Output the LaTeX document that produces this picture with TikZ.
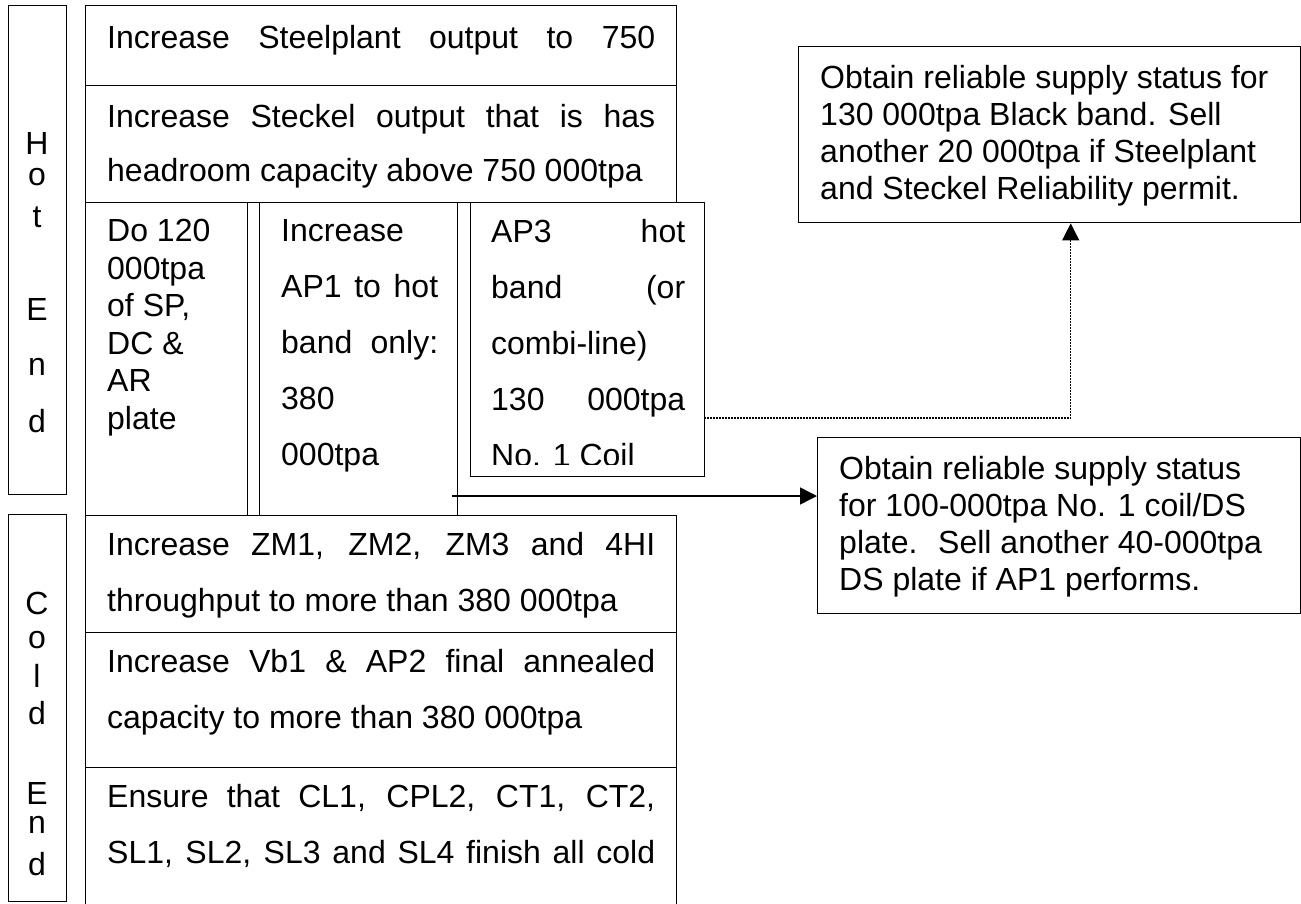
\documentclass[tikz,border=0pt]{standalone}
\usepackage{fontspec}
\setmainfont{Liberation Sans}
\usetikzlibrary{arrows.meta}
\tikzset{
  cell/.style={draw, line width=1.4pt, inner sep=0pt, anchor=north west},
  celltext/.style={anchor=north west, inner sep=0pt, align=left,
    execute at begin node={\rule{0pt}{24pt}}},
  rowtext/.style={celltext, font=\fontsize{32}{56}\selectfont},
  listtext/.style={celltext, font=\fontsize{32}{37.6}\selectfont},
  notetext/.style={celltext, font=\fontsize{32}{37}\selectfont},
  sideletter/.style={inner sep=0pt, anchor=base, font=\fontsize{32}{37}\selectfont},
  flow/.style={line width=1.4pt, -{Triangle[length=17pt,width=17pt]}},
  dotflow/.style={line width=1.3pt, dash pattern=on 1.5pt off 1.5pt, -{Triangle[length=17pt,width=17pt]}}
}
\newcommand{\jline}[2]{\makebox[#1][s]{#2}}

\begin{document}
\begin{tikzpicture}[x=1pt, y=1pt]
    \useasboundingbox (0,0) rectangle (1301,-903);

    % Side labels
    \node[cell, minimum width=58pt, minimum height=489pt] (hotend) at (8,-5) {};
    \node[cell, minimum width=58pt, minimum height=387pt] (coldend) at (8,-514) {};
    \foreach \ch/\yy/\nm in {H/154/h1, o/185/h2, t/227/h3, E/320/h4, n/375/h5, d/432/h6}
        \node[sideletter] (hot\nm) at (37,-\yy) {\ch};
    \foreach \ch/\yy/\nm in {C/614/c1, o/648/c2, l/687/c3, d/724/c4, E/804/c5, n/833/c6, d/875/c7}
        \node[sideletter] (cold\nm) at (37,-\yy) {\ch};

    % Hot end boxes
    \node[cell, minimum width=591pt, minimum height=80pt] (steel) at (85,-5) {};
    \node[cell, minimum width=591pt, minimum height=117pt] (steckel) at (85,-85) {};
    \node[cell, minimum width=162pt, minimum height=313pt] (dosp) at (85,-202) {};
    \node[cell, minimum width=198pt, minimum height=313pt] (ap1) at (259,-202) {};
    \node[cell, minimum width=234pt, minimum height=274pt] (ap3) at (470,-202) {};

    \node[rowtext] (steeltxt) at (107,-24) {\jline{548pt}{Increase Steelplant output to 750}};
    \node[rowtext, font=\fontsize{32}{54}\selectfont] (steckeltxt) at (107,-104)
        {\jline{548pt}{Increase Steckel output that is has}\\headroom capacity above 750 000tpa};
    \node[listtext] (dosptxt) at (107,-219) {Do 120\\000tpa\\of SP,\\DC \&\\AR\\plate};
    \node[rowtext] (ap1txt) at (281,-219)
        {Increase\\\jline{157pt}{AP1 to hot}\\\jline{157pt}{band only:}\\380\\000tpa};
    \begin{scope}
        \clip (ap3.north west) rectangle ([yshift=13pt]ap3.south east);
        \node[rowtext] (ap3txt) at (491,-219)
            {\jline{194pt}{AP3 hot}\\\jline{194pt}{band (or}\\combi-line)\\\jline{194pt}{130 000tpa}\\No. 1 Coil};
    \end{scope}

    % Cold end boxes
    \node[cell, minimum width=591pt, minimum height=117pt] (zm) at (85,-515) {};
    \node[cell, minimum width=591pt, minimum height=135pt] (vb) at (85,-632) {};
    \node[cell, minimum width=591pt, minimum height=145pt] (ensure) at (85,-767) {};

    \node[rowtext] (zmtxt) at (107,-532)
        {\jline{548pt}{Increase ZM1, ZM2, ZM3 and 4HI}\\throughput to more than 380 000tpa};
    \node[rowtext] (vbtxt) at (107,-649)
        {\jline{548pt}{Increase Vb1 \& AP2 final annealed}\\capacity to more than 380 000tpa};
    \node[rowtext] (ensuretxt) at (107,-784)
        {\jline{548pt}{Ensure that CL1, CPL2, CT1, CT2,}\\\jline{548pt}{SL1, SL2, SL3 and SL4 finish all cold}};

    % Supply status boxes
    \node[cell, minimum width=502pt, minimum height=176pt] (blackband) at (798,-46) {};
    \node[cell, minimum width=483pt, minimum height=176pt] (coil) at (817,-437) {};

    \node[notetext] (blackbandtxt) at (820,-65)
        {Obtain reliable supply status for\\130 000tpa Black band. Sell\\another 20 000tpa if Steelplant\\and Steckel Reliability permit.};
    \node[notetext] (coiltxt) at (839,-456)
        {Obtain reliable supply status\\for 100-000tpa No. 1 coil/DS\\plate.~ Sell another 40-000tpa\\DS plate if AP1 performs.};

    % Links
    \coordinate (ap1out) at (452,-496);
    \coordinate (ap3out) at (704,-418);
    \draw[flow] (ap1out) -- (ap1out -| coil.west);
    \draw[dotflow] (ap3out) -| ([xshift=21pt]blackband.south);

\end{tikzpicture}
\end{document}
